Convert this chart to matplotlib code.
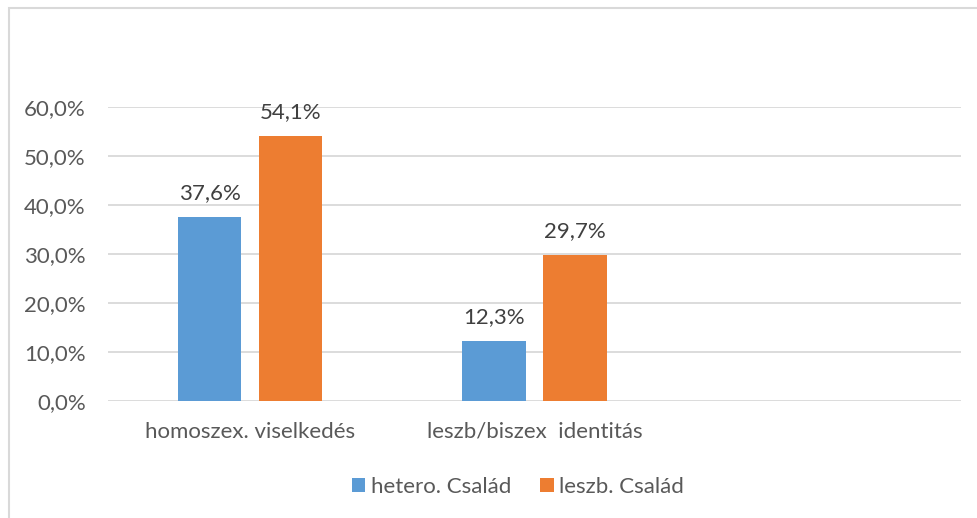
import matplotlib.pyplot as plt
from matplotlib.patches import Rectangle
import numpy as np

categories = ["homoszex. viselkedés", "leszb/biszex  identitás", ""]
series_names = ["hetero. Család", "leszb. Család"]
hetero = [37.6, 12.3, None]
leszb = [54.1, 29.7, None]
yticks = [0, 10, 20, 30, 40, 50, 60]

colors = ["#5B9BD5", "#ED7D31"]
text_color = "#595959"
grid_color = "#D9D9D9"

plt.rcParams['font.family'] = ['Lato', 'DejaVu Sans']

W, H = 977, 518
fig = plt.figure(figsize=(W / 100, H / 100), dpi=100)
ax = fig.add_axes([108 / W, (H - 401) / H, (961 - 108) / W, (401 - 107) / H])

# outer chart border (only left/top visible in the crop)
fig.patches.append(Rectangle((9 / W, -0.2), 1.2, (H - 8) / H + 0.2,
                             transform=fig.transFigure, fill=False,
                             edgecolor=grid_color, linewidth=1.5))

x = np.arange(len(categories))
width = 0.222
gap = 0.063
offsets = [-(width + gap) / 2, (width + gap) / 2]

for vals, off, col, name in zip([hetero, leszb], offsets, colors, series_names):
    xs = [xi + off for xi, v in zip(x, vals) if v is not None]
    vs = [v for v in vals if v is not None]
    bars = ax.bar(xs, vs, width, color=col, label=name, zorder=3)
    for b, v in zip(bars, vs):
        ax.annotate(f"{v:.1f}%".replace(".", ","),
                    (b.get_x() + b.get_width() / 2, v),
                    xytext=(0, 10), textcoords="offset points",
                    ha="center", va="bottom", fontsize=16, color="#404040")

ax.set_xlim(-0.5, len(categories) - 0.5)
ax.set_ylim(0, 60)
ax.set_yticks(yticks)
ax.set_yticklabels([f"{t:.1f}%".replace(".", ",") for t in yticks])
ax.set_xticks(x)
ax.set_xticklabels(categories)
ax.tick_params(axis="both", length=0, labelsize=16, colors=text_color)
ax.tick_params(axis="y", pad=16)
ax.tick_params(axis="x", pad=15)
ax.grid(axis="y", color=grid_color, linewidth=1.3, zorder=0)
for s in ax.spines.values():
    s.set_visible(False)

ax.legend(loc="center", bbox_to_anchor=(518 / W, (H - 487) / H),
          bbox_transform=fig.transFigure, ncol=2, frameon=False,
          fontsize=16, labelcolor=text_color, handlelength=0.6,
          handleheight=0.6, handletextpad=0.25, columnspacing=1.3)

fig.savefig("out.png", dpi=100)
